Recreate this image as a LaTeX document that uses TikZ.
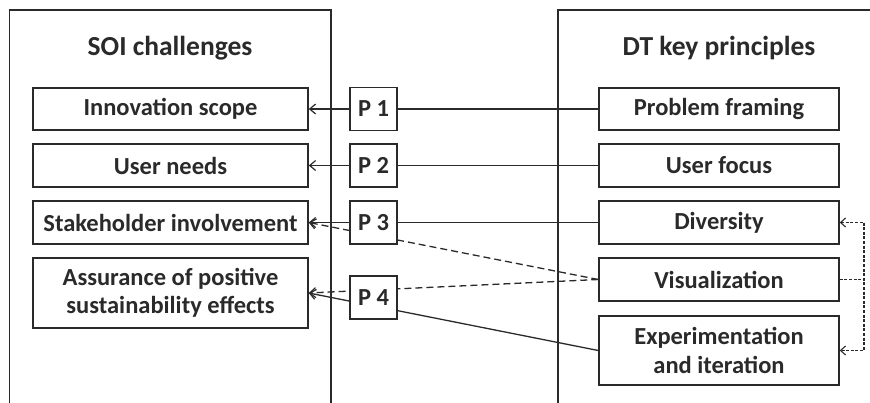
\documentclass[tikz,border=0pt]{standalone}
\usepackage{fontspec}
\setmainfont{Carlito}
\usetikzlibrary{arrows.meta}

\definecolor{ink}{HTML}{2A2A2A}

\tikzset{
  outerbox/.style={draw=ink, line width=1.3pt},
  title/.style={font=\fontsize{27.5}{31}\selectfont\bfseries, text=ink},
  itembox/.style={draw=ink, line width=1.5pt, fill=white, inner sep=0pt,
    align=center, text=ink, font=\fontsize{24.5}{28.5}\selectfont\bfseries},
  pbox/.style={itembox, minimum width=47pt, minimum height=43pt},
  conn/.style={draw=ink, line width=1.3pt, -{Straight Barb[length=6pt,width=10pt,line width=1.2pt]}},
  dashconn/.style={conn, dash pattern=on 7pt off 4pt},
  loopline/.style={draw=ink, line width=1.3pt, dash pattern=on 3pt off 1.6pt}
}

\begin{document}
\begin{tikzpicture}[x=1pt, y=-1pt]
\useasboundingbox (0,0) rectangle (870,402);
\clip (0,0) rectangle (870,402);

% two framing panels (they run past the lower and right edges)
\draw[outerbox] (9.5,420) -- (9.5,10) -- (331,10) -- (331,420);
\draw[outerbox] (558,420) -- (558,10) -- (885,10);

\node[title] (soi) at (170,48) {SOI challenges};
\node[title] (dtk) at (719,48) {DT key principles};

% SOI challenges
\node[itembox, minimum width=275pt, minimum height=42pt] (inn) at (170.5,109) {Innovation scope};
\node[itembox, minimum width=275pt, minimum height=43pt] (usr) at (170.5,165.5) {User needs};
\node[itembox, minimum width=275pt, minimum height=43pt] (stk) at (170.5,222.5) {Stakeholder involvement};
\node[itembox, minimum width=275pt, minimum height=70pt] (asr) at (170.5,293) {Assurance of positive\\sustainability effects};

% DT key principles
\node[itembox, minimum width=240pt, minimum height=42pt] (pfr) at (719,109) {Problem framing};
\node[itembox, minimum width=240pt, minimum height=43pt] (ufo) at (719,165.5) {User focus};
\node[itembox, minimum width=240pt, minimum height=43pt] (div) at (719,222.5) {Diversity};
\node[itembox, minimum width=240pt, minimum height=43pt] (vis) at (719,279.5) {Visualization};
\node[itembox, minimum width=240pt, minimum height=69pt] (exp) at (719,350.5) {Experimentation\\and iteration};

% links from principles to challenges
\draw[conn] (pfr.west) -- (inn.east);
\draw[conn] (ufo.west) -- (usr.east);
\draw[conn] (div.west) -- (stk.east);
\draw[dashconn] (vis.west) -- (stk.east);
\draw[dashconn] (vis.west) -- (asr.east);
\draw[conn] (exp.west) -- (asr.east);

% propositions sit on top of the links
\node[pbox] (p1) at (373.5,109) {P 1};
\node[pbox] (p2) at (373.5,165.5) {P 2};
\node[pbox] (p3) at (373.5,222.5) {P 3};
\node[pbox] (p4) at (373.5,297.5) {P 4};

% visualization feeds diversity and experimentation
\coordinate (br) at (864,0);
\draw[loopline] (vis.east) -- (vis.east -| br);
\draw[loopline, {Straight Barb[length=5pt,width=9pt,line width=1.1pt]}-{Straight Barb[length=5pt,width=9pt,line width=1.1pt]}]
  (div.east) -- (div.east -| br) |- (exp.east);
\end{tikzpicture}
\end{document}
